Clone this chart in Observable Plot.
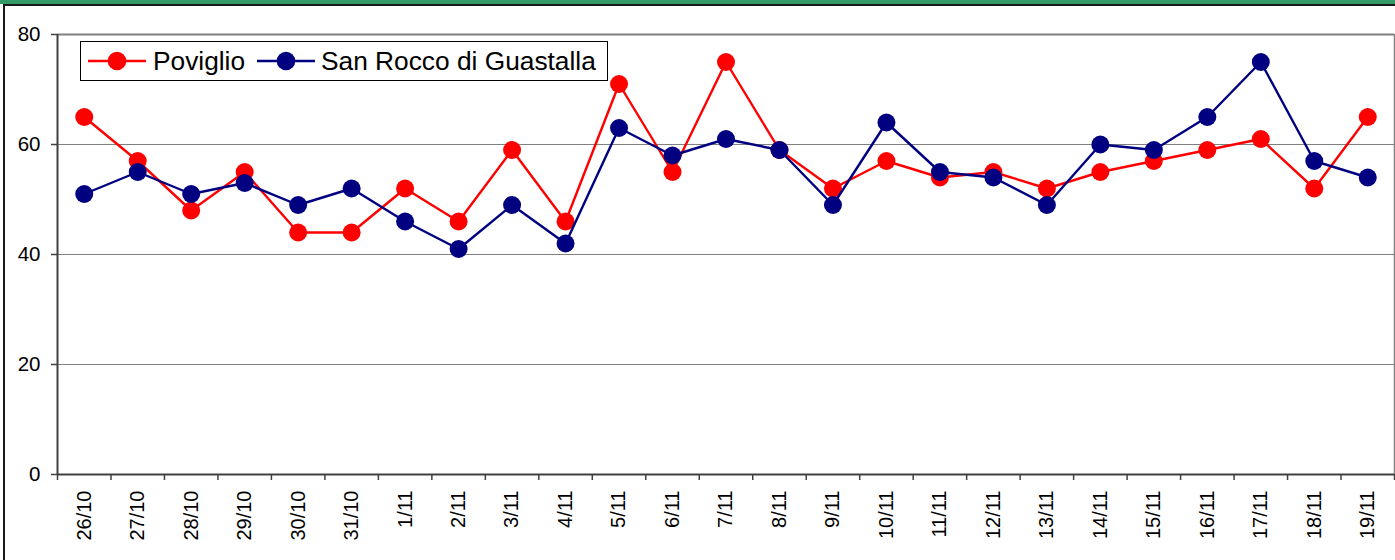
<!DOCTYPE html>
<html>
<head>
<meta charset="utf-8">
<script src="https://cdn.jsdelivr.net/npm/d3@7"></script>
<script src="https://cdn.jsdelivr.net/npm/@observablehq/plot@0.6"></script>
<style>
  html, body { margin: 0; padding: 0; background: #fff; overflow: hidden; }
  #wrap { position: relative; width: 1395px; height: 560px; font-family: "Liberation Sans", Arial, sans-serif; }
  #greenbar { position: absolute; left: 0; top: 0; width: 1395px; height: 4px; background: #339966; }
  #topline { position: absolute; left: 3px; top: 4px; width: 1392px; height: 1.5px; background: #1a1a1a; }
  #leftline { position: absolute; left: 3px; top: 4px; width: 2px; height: 556px; background: #1a1a1a; }
  #legend { position: absolute; left: 80px; top: 41px; }
</style>
</head>
<body>
<div id="wrap">
  <div id="chart"></div>
  <div id="greenbar"></div>
  <div id="topline"></div>
  <div id="leftline"></div>
  <div id="legend"></div>
</div>
<script>
const dates = ["26/10","27/10","28/10","29/10","30/10","31/10","1/11","2/11","3/11","4/11","5/11","6/11","7/11","8/11","9/11","10/11","11/11","12/11","13/11","14/11","15/11","16/11","17/11","18/11","19/11"];
const poviglio = [65,57,48,55,44,44,52,46,59,46,71,55,75,59,52,57,54,55,52,55,57,59,61,52,65];
const sanRocco = [51,55,51,53,49,52,46,41,49,42,63,58,61,59,49,64,55,54,49,60,59,65,75,57,54];
const yTicks = [0,20,40,60,80];
const seriesNames = ["Poviglio","San Rocco di Guastalla"];
const seriesColors = ["#ff0000","#000080"];

const idx = d3.range(dates.length);
const boundaries = d3.range(dates.length + 1).map(i => i - 0.5);
const povData = poviglio.map((v, i) => ({i, v}));
const sanData = sanRocco.map((v, i) => ({i, v}));
const font = "Liberation Sans, Arial, sans-serif";

const chart = Plot.plot({
  width: 1395,
  height: 560,
  marginLeft: 57,
  marginRight: 1,
  marginTop: 34,
  marginBottom: 86,
  style: {fontFamily: font, background: "transparent", overflow: "visible"},
  x: {type: "linear", domain: [-0.5, dates.length - 0.5]},
  y: {domain: [0, 80]},
  marks: [
    Plot.gridY([20, 40, 60], {stroke: "#808080", strokeOpacity: 1, strokeWidth: 1.2}),
    Plot.ruleY([80], {stroke: "#808080", strokeWidth: 2}),
    Plot.ruleX([dates.length - 0.5], {stroke: "#808080", strokeWidth: 1.5}),
    Plot.axisY({ticks: yTicks, tickSize: 6, tickPadding: 11, fontSize: 20.5, stroke: "#404040", strokeWidth: 1.5, fill: "#000", label: null}),
    Plot.axisX({ticks: boundaries, tickFormat: () => "", tickSize: 6, stroke: "#404040", strokeWidth: 1.5, label: null}),
    Plot.axisX({ticks: idx, tickFormat: i => dates[i], tickSize: 0, tickPadding: 16, tickRotate: -90, fontSize: 20, fill: "#000", label: null}),
    Plot.ruleX([-0.5], {stroke: "#404040", strokeWidth: 2}),
    Plot.ruleY([0], {stroke: "#404040", strokeWidth: 2}),
    Plot.line(povData, {x: "i", y: "v", stroke: seriesColors[0], strokeWidth: 2.4}),
    Plot.dot(povData, {x: "i", y: "v", r: 9, fill: seriesColors[0], stroke: "none"}),
    Plot.line(sanData, {x: "i", y: "v", stroke: seriesColors[1], strokeWidth: 2.4}),
    Plot.dot(sanData, {x: "i", y: "v", r: 9, fill: seriesColors[1], stroke: "none"})
  ]
});
document.getElementById("chart").appendChild(chart);

// Legend
const lg = d3.select("#legend").append("svg").attr("width", 530).attr("height", 41);
lg.append("rect").attr("x", 0.5).attr("y", 0.5).attr("width", 527).attr("height", 39)
  .attr("fill", "#fff").attr("stroke", "#000").attr("stroke-width", 1);
const items = [
  {name: seriesNames[0], color: seriesColors[0], x0: 8, x1: 66, tx: 73},
  {name: seriesNames[1], color: seriesColors[1], x0: 177, x1: 235, tx: 241}
];
for (const it of items) {
  lg.append("line").attr("x1", it.x0).attr("x2", it.x1).attr("y1", 20).attr("y2", 20)
    .attr("stroke", it.color).attr("stroke-width", 2.4);
  lg.append("circle").attr("cx", (it.x0 + it.x1) / 2).attr("cy", 20).attr("r", 9.3).attr("fill", it.color);
  lg.append("text").attr("x", it.tx).attr("y", 20).attr("dy", "0.36em")
    .attr("font-family", font).attr("font-size", 26.3).attr("fill", "#000").text(it.name);
}
</script>
</body>
</html>
